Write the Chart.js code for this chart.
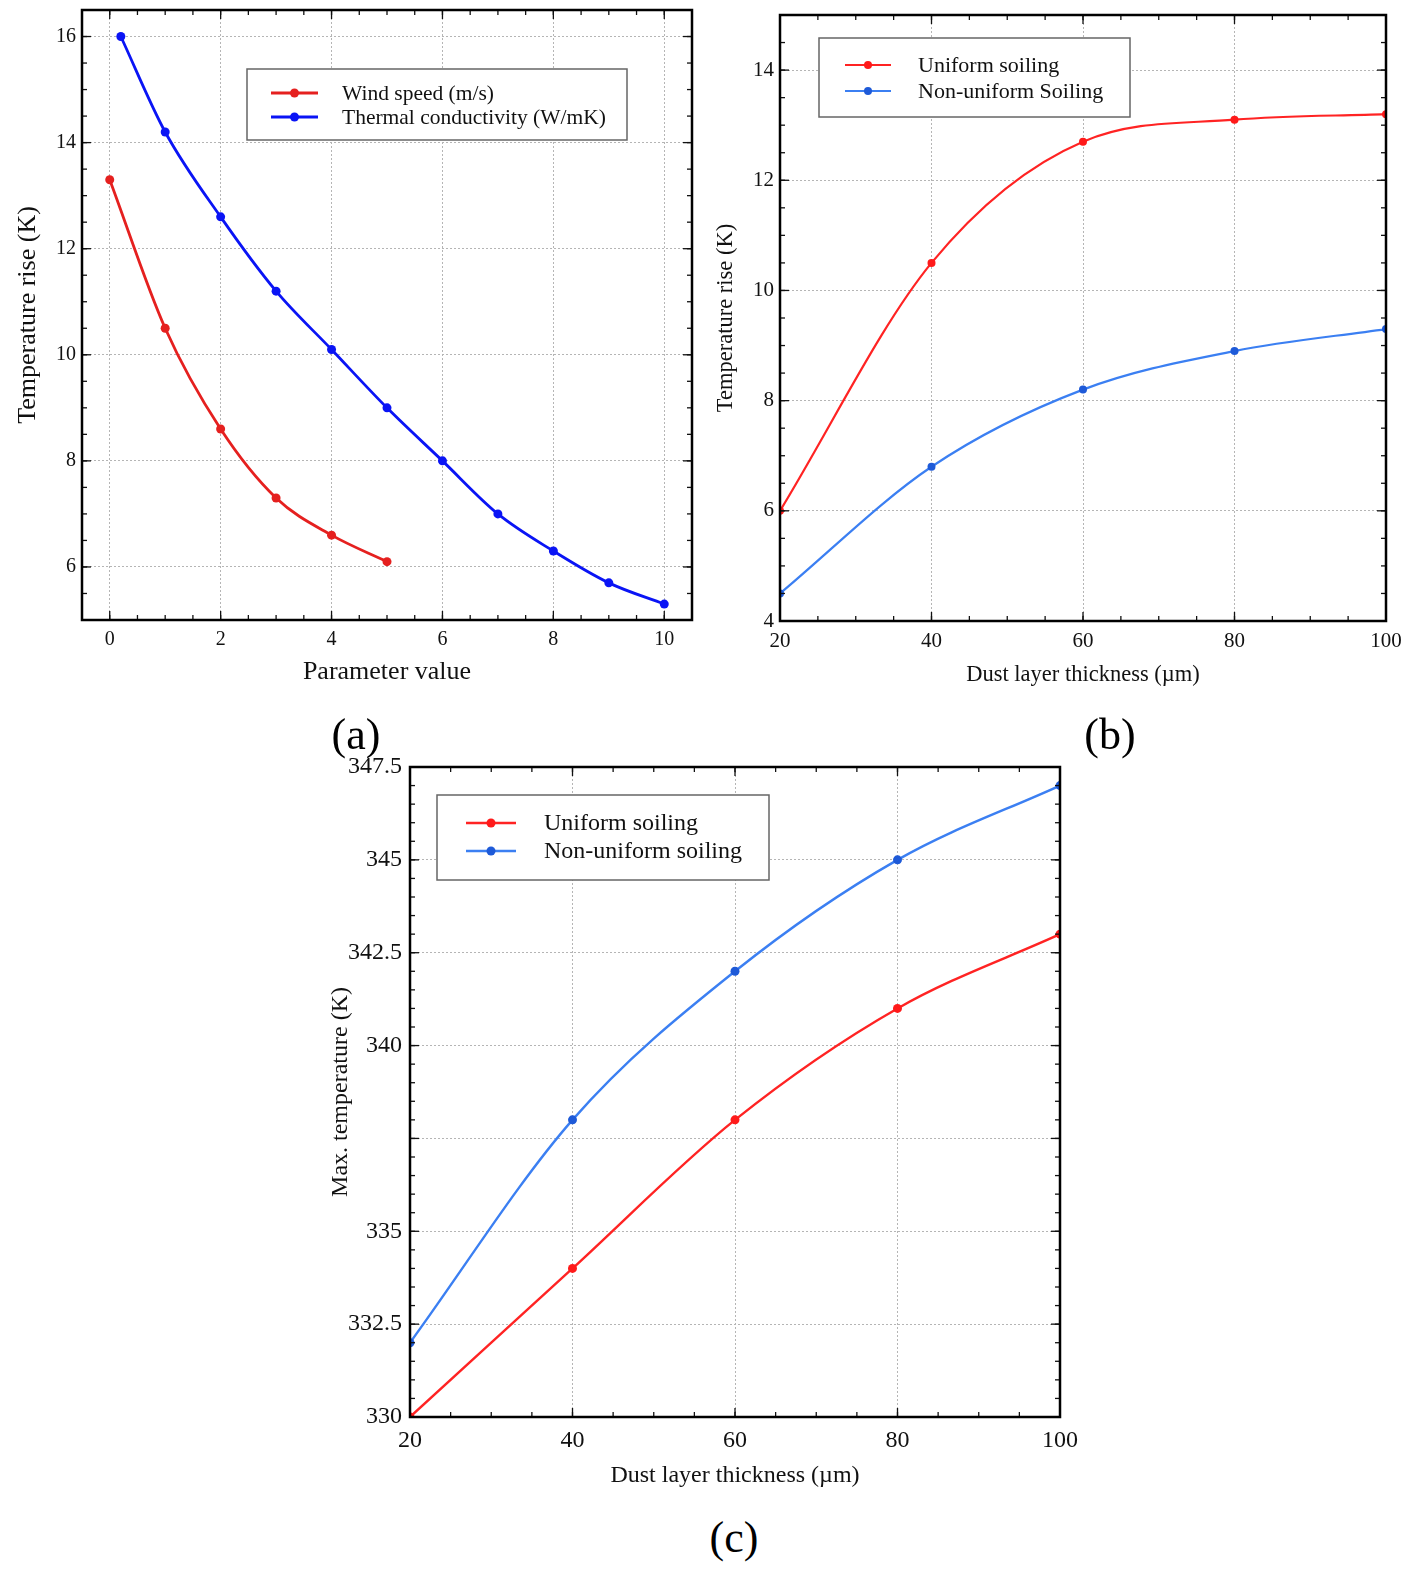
<!DOCTYPE html>
<html>
<head>
<meta charset="utf-8">
<script src="https://cdn.jsdelivr.net/npm/chart.js@4.4.1/dist/chart.umd.min.js"></script>
<style>
  html, body { margin: 0; padding: 0; overflow: hidden; }
  body { background: #fff; width: 1409px; height: 1574px; position: relative; font-family: 'Liberation Serif', 'Times New Roman', serif; }
  .panel { position: absolute; }
  .tag { position: absolute; width: 120px; height: 50px; line-height: 50px; text-align: center; font-size: 44px; color: #000; }
</style>
</head>
<body>
<div class="panel" style="left:0;top:0;width:700px;height:700px"><canvas id="chartA"></canvas></div>
<div class="panel" style="left:700px;top:0;width:709px;height:700px"><canvas id="chartB"></canvas></div>
<div class="panel" style="left:320px;top:750px;width:760px;height:760px"><canvas id="chartC"></canvas></div>
<div class="tag" style="left:296px;top:710px">(a)</div>
<div class="tag" style="left:1050px;top:710px">(b)</div>
<div class="tag" style="left:674px;top:1513px">(c)</div>

<script>
// (a) parameter study
const windX = [0, 1, 2, 3, 4, 5]
const windRise = [13.3, 10.5, 8.6, 7.3, 6.6, 6.1]
const condX = [0.2, 1, 2, 3, 4, 5, 6, 7, 8, 9, 10]
const condRise = [16.0, 14.2, 12.6, 11.2, 10.1, 9.0, 8.0, 7.0, 6.3, 5.7, 5.3]
const ticksAx = [0, 2, 4, 6, 8, 10]
const ticksAy = [6, 8, 10, 12, 14, 16]

// (b) temperature rise vs dust thickness
const thickness = [20, 40, 60, 80, 100]
const riseUniform = [6.0, 10.5, 12.7, 13.1, 13.2]
const riseNonUniform = [4.5, 6.8, 8.2, 8.9, 9.3]
const ticksBy = [4, 6, 8, 10, 12, 14]

// (c) max temperature vs dust thickness
const maxUniform = [330.0, 334.0, 338.0, 341.0, 343.0]
const maxNonUniform = [332.0, 338.0, 342.0, 345.0, 347.0]
const gridCy = [330, 332.5, 335, 337.5, 340, 342.5, 345, 347.5]
const labelsCy = [330, 332.5, 335, 340, 342.5, 345, 347.5]
const ticksThick = [20, 40, 60, 80, 100]

const serif = "'Liberation Serif', 'Times New Roman', serif"

const pairs = (xs, ys) => xs.map((x, i) => ({ x: x, y: ys[i] }))

// frame with inward ticks on all four sides
const framePlugin = {
    id: 'frame',
    afterDatasetsDraw(chart, args, opts) {
        const { ctx, chartArea: a, scales } = chart
        const x = scales.x, y = scales.y
        ctx.save()
        ctx.strokeStyle = '#111'
        ctx.lineWidth = 1.3
        const seg = (x1, y1, x2, y2) => { ctx.beginPath(); ctx.moveTo(x1, y1); ctx.lineTo(x2, y2); ctx.stroke() }
        const marks = (scale, step, len, horiz) => {
            const i0 = Math.ceil(scale.min / step - 1e-6), i1 = Math.floor(scale.max / step + 1e-6)
            for (let i = i0; i <= i1; i++) {
                const p = scale.getPixelForValue(i * step)
                if (horiz) { seg(p, a.bottom, p, a.bottom - len); seg(p, a.top, p, a.top + len) }
                else { seg(a.left, p, a.left + len, p); seg(a.right, p, a.right - len, p) }
            }
        }
        marks(x, opts.xMinor, 5, true)
        marks(x, opts.xMajor, 9, true)
        marks(y, opts.yMinor, 5, false)
        marks(y, opts.yMajor, 9, false)
        ctx.lineWidth = opts.width
        ctx.strokeStyle = '#000'
        ctx.strokeRect(a.left, a.top, a.right - a.left, a.bottom - a.top)
        ctx.restore()
    }
}

// boxed legend drawn inside the plot
const boxLegend = {
    id: 'boxLegend',
    afterDraw(chart, args, o) {
        const ctx = chart.ctx
        ctx.save()
        ctx.fillStyle = '#fff'
        ctx.fillRect(o.x, o.y, o.w, o.h)
        ctx.strokeStyle = '#666'
        ctx.lineWidth = 1.5
        ctx.strokeRect(o.x, o.y, o.w, o.h)
        chart.data.datasets.forEach((ds, i) => {
            const ry = o.row0 + i * o.rowGap
            ctx.strokeStyle = ds.borderColor
            ctx.lineWidth = ds.borderWidth
            ctx.beginPath(); ctx.moveTo(o.l0, ry); ctx.lineTo(o.l1, ry); ctx.stroke()
            ctx.fillStyle = ds.pointBackgroundColor
            ctx.beginPath(); ctx.arc((o.l0 + o.l1) / 2, ry, ds.pointRadius, 0, Math.PI * 2); ctx.fill()
            ctx.fillStyle = '#111'
            ctx.font = o.size + 'px ' + serif
            ctx.textBaseline = 'middle'
            ctx.fillText(ds.label, o.tx, ry + 1)
        })
        ctx.restore()
    }
}

const gridStyle = { color: '#b5b5b5', lineWidth: 1, drawTicks: false }

function makeChart(id, cfg) {
    return new Chart(document.getElementById(id), {
        type: 'line',
        data: { datasets: cfg.datasets },
        options: {
            responsive: true,
            maintainAspectRatio: false,
            animation: false,
            layout: { padding: cfg.padding },
            plugins: {
                legend: { display: false },
                tooltip: { enabled: false },
                frame: cfg.frame,
                boxLegend: cfg.legend,
            },
            scales: {
                x: {
                    type: 'linear',
                    min: cfg.xMin, max: cfg.xMax,
                    afterBuildTicks: s => { s.ticks = cfg.xTicks.map(v => ({ value: v })) },
                    afterFit: s => { s.height = cfg.xHeight; s.paddingLeft = 0; s.paddingRight = 0 },
                    grid: gridStyle,
                    border: { display: false, dash: [2, 2] },
                    ticks: { color: '#111', padding: cfg.xTickPad, font: { family: serif, size: cfg.tickSize }, maxRotation: 0, callback: v => String(v) },
                    title: { display: true, text: cfg.xTitle, color: '#111', font: { family: serif, size: cfg.xTitleSize }, padding: { top: 0, bottom: cfg.xTitlePad } },
                },
                y: {
                    min: cfg.yMin, max: cfg.yMax,
                    afterBuildTicks: s => { s.ticks = cfg.yGrid.map(v => ({ value: v })) },
                    afterFit: s => { s.width = cfg.yWidth; s.paddingTop = 0; s.paddingBottom = 0 },
                    grid: gridStyle,
                    border: { display: false, dash: [2, 2] },
                    ticks: { color: '#111', padding: cfg.yTickPad, font: { family: serif, size: cfg.tickSize }, callback: v => cfg.yLabels.includes(v) ? String(v) : '' },
                    title: { display: true, text: cfg.yTitle, color: '#111', font: { family: serif, size: cfg.yTitleSize }, padding: { top: cfg.yTitlePad, bottom: 0 } },
                },
            },
        },
        plugins: [framePlugin, boxLegend],
    })
}

function series(label, xs, ys, line, dot, width, r) {
    return {
        label: label,
        data: pairs(xs, ys),
        borderColor: line,
        backgroundColor: dot,
        pointBackgroundColor: dot,
        pointBorderWidth: 0,
        pointRadius: r,
        borderWidth: width,
        cubicInterpolationMode: 'monotone',
        fill: false,
    }
}

makeChart('chartA', {
    datasets: [
        series('Wind speed (m/s)', windX, windRise, '#e5201f', '#e5201f', 2.8, 4.5),
        series('Thermal conductivity (W/mK)', condX, condRise, '#0a14f5', '#0a14f5', 2.8, 4.5),
    ],
    padding: { left: 0, top: 10, right: 8, bottom: 0 },
    xMin: -0.5, xMax: 10.5, xTicks: ticksAx, xHeight: 80, xTickPad: 8,
    yMin: 5, yMax: 16.5, yGrid: ticksAy, yLabels: ticksAy, yWidth: 82, yTickPad: 6,
    tickSize: 20,
    xTitle: 'Parameter value', xTitleSize: 26, xTitlePad: 12,
    yTitle: 'Temperature rise (K)', yTitleSize: 26, yTitlePad: 13,
    frame: { xMinor: 0.5, xMajor: 2, yMinor: 0.5, yMajor: 2, width: 2.5 },
    legend: { x: 247, y: 69, w: 380, h: 71, row0: 93, rowGap: 24, l0: 271, l1: 318, tx: 342, size: 21.5 },
})

makeChart('chartB', {
    datasets: [
        series('Uniform soiling', thickness, riseUniform, '#ff2323', '#ff1a1a', 2.2, 4),
        series('Non-uniform Soiling', thickness, riseNonUniform, '#3b7ff2', '#1e5ad8', 2.2, 4),
    ],
    padding: { left: 0, top: 15, right: 23, bottom: 0 },
    xMin: 20, xMax: 100, xTicks: ticksThick, xHeight: 79, xTickPad: 8,
    yMin: 4, yMax: 15, yGrid: ticksBy, yLabels: ticksBy, yWidth: 80, yTickPad: 6,
    tickSize: 21,
    xTitle: 'Dust layer thickness (\u00b5m)', xTitleSize: 22.5, xTitlePad: 11,
    yTitle: 'Temperature rise (K)', yTitleSize: 22.5, yTitlePad: 13,
    frame: { xMinor: 5, xMajor: 20, yMinor: 0.5, yMajor: 2, width: 2.5 },
    legend: { x: 119, y: 38, w: 311, h: 79, row0: 65, rowGap: 26, l0: 145, l1: 191, tx: 218, size: 22 },
})

makeChart('chartC', {
    datasets: [
        series('Uniform soiling', thickness, maxUniform, '#ff2323', '#ff1a1a', 2.4, 4.5),
        series('Non-uniform soiling', thickness, maxNonUniform, '#3b7ff2', '#1e5ad8', 2.4, 4.5),
    ],
    padding: { left: 0, top: 17, right: 20, bottom: 0 },
    xMin: 20, xMax: 100, xTicks: ticksThick, xHeight: 93, xTickPad: 9,
    yMin: 330, yMax: 347.5, yGrid: gridCy, yLabels: labelsCy, yWidth: 90, yTickPad: 8,
    tickSize: 24,
    xTitle: 'Dust layer thickness (\u00b5m)', xTitleSize: 24, xTitlePad: 20,
    yTitle: 'Max. temperature (K)', yTitleSize: 24, yTitlePad: 6,
    frame: { xMinor: 5, xMajor: 20, yMinor: 0.5, yMajor: 2.5, width: 2.5 },
    legend: { x: 117, y: 45, w: 332, h: 85, row0: 73, rowGap: 28, l0: 146, l1: 196, tx: 224, size: 24 },
})
</script>
</body>
</html>
